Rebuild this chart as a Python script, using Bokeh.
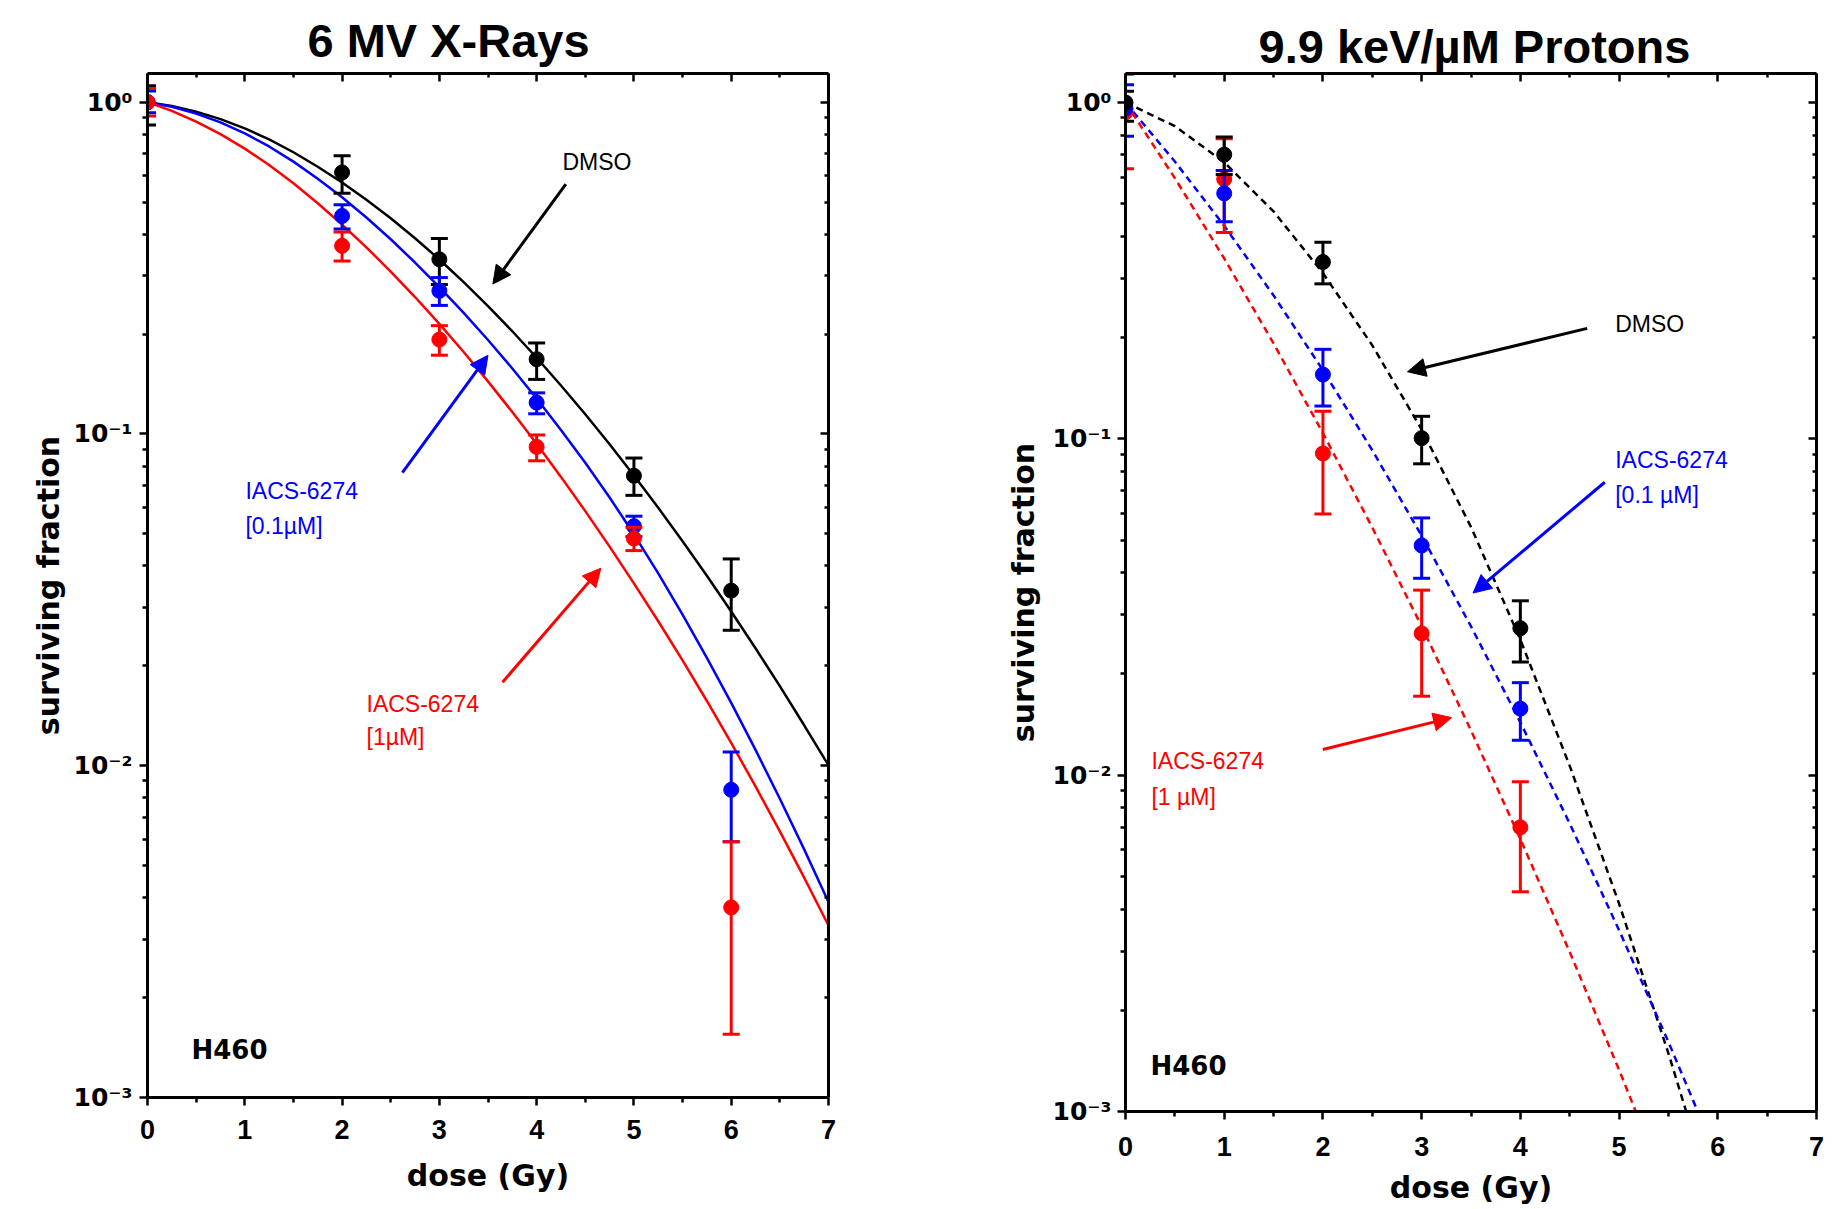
from bokeh.plotting import figure
from bokeh.models import (Range1d, LinearAxis, LogAxis, FixedTicker, Arrow,
                          NormalHead, Title)
from bokeh.layouts import row, column
from bokeh.embed import file_html
from bokeh.resources import INLINE
from bokeh.core.properties import value

FONT = "Liberation Sans"
WIDE = "DejaVu Sans"
BLACK, BLUE, RED = "#000000", "#0000FF", "#FF0000"

# ---------------- 6 MV X-Rays (left panel) ----------------
xr_dose = [0, 2, 3, 4, 5, 6]
xr_dmso = [1.0, 0.614, 0.336, 0.168, 0.0748, 0.0337]
xr_dmso_hi = [1.12, 0.689, 0.388, 0.188, 0.0846, 0.042]
xr_dmso_lo = [0.853, 0.531, 0.282, 0.146, 0.0653, 0.0256]
xr_low = [1.0, 0.454, 0.270, 0.1243, 0.0527, 0.00846]
xr_low_hi = [1.08, 0.491, 0.296, 0.133, 0.0565, 0.011]
xr_low_lo = [0.929, 0.415, 0.244, 0.115, 0.049, 0.0059]
xr_high = [1.0, 0.369, 0.1925, 0.0914, 0.0484, 0.00374]
xr_high_hi = [1.10, 0.406, 0.212, 0.0993, 0.0523, 0.0059]
xr_high_lo = [0.908, 0.332, 0.1727, 0.083, 0.0445, 0.00155]

# fitted curves every 0.25 Gy
xr_fit_dose = [0, 0.25, 0.5, 0.75, 1, 1.25, 1.5, 1.75, 2, 2.25, 2.5, 2.75, 3,
               3.25, 3.5, 3.75, 4, 4.25, 4.5, 4.75, 5, 5.25, 5.5, 5.75, 6,
               6.25, 6.5, 6.75, 7]
xr_fit_dmso = [1.0, 0.9739, 0.9365, 0.8892, 0.8338, 0.7722, 0.7063, 0.6388,
               0.5724, 0.5080, 0.4466, 0.3889, 0.3356, 0.2869, 0.2429, 0.2039,
               0.1697, 0.1400, 0.1146, 0.0931, 0.0749, 0.0599, 0.0475, 0.03737,
               0.02917, 0.02259, 0.01737, 0.01324, 0.01003]
xr_fit_low = [1.0, 0.9685, 0.9241, 0.8690, 0.8054, 0.7354, 0.6618, 0.5879,
              0.5167, 0.4491, 0.3861, 0.3286, 0.2772, 0.2317, 0.1919, 0.1575,
              0.1279, 0.1028, 0.08187, 0.06435, 0.04983, 0.0380, 0.02855,
              0.02115, 0.01546, 0.01116, 0.00795, 0.005596, 0.003883]
xr_fit_high = [1.0, 0.9410, 0.8740, 0.8009, 0.7244, 0.6466, 0.5695, 0.4959,
               0.4276, 0.3651, 0.3087, 0.2586, 0.2146, 0.1766, 0.1440, 0.1164,
               0.09335, 0.07422, 0.05852, 0.04574, 0.03546, 0.02725, 0.02077,
               0.01567, 0.01171, 0.00866, 0.006342, 0.004597, 0.0033]

# ---------------- 9.9 keV/um Protons (right panel) ----------------
pr_dose = [0, 1, 2, 3, 4]
pr_dmso = [1.0, 0.700, 0.3355, 0.1005, 0.02735]
pr_dmso_hi = [1.08, 0.790, 0.384, 0.1167, 0.033]
pr_dmso_lo = [0.88, 0.6115, 0.289, 0.0843, 0.0217]
pr_low = [0.96, 0.537, 0.1553, 0.0482, 0.01577]
pr_low_hi = [1.129, 0.628, 0.1846, 0.0582, 0.01884]
pr_low_lo = [0.794, 0.442, 0.1252, 0.0385, 0.0127]
pr_high = [0.936, 0.592, 0.0905, 0.0264, 0.0070]
pr_high_hi = [1.214, 0.780, 0.1208, 0.0355, 0.00956]
pr_high_lo = [0.636, 0.411, 0.0598, 0.01717, 0.0045]

pr_fit_dose = [0, 0.5, 1, 1.5, 2, 2.5, 3, 3.5, 4, 4.5, 5, 5.5, 6]
pr_fit_dmso = [1.0, 0.851, 0.664, 0.4745, 0.311, 0.1897, 0.1066, 0.0547,
               0.02529, 0.01066, 0.00415, 0.001489, 0.000493]
pr_fit_low = [1.0, 0.668, 0.430, 0.267, 0.160, 0.0925, 0.0515, 0.0277, 0.01436,
              0.00718, 0.00346, 0.00161, 0.000723]
pr_fit_high = [1.0, 0.596, 0.344, 0.1922, 0.1040, 0.0545, 0.0277, 0.01358,
               0.00646, 0.00298, 0.00133, 0.000573, 0.00024]

x_ticks = [0, 1, 2, 3, 4, 5, 6, 7]
x_minor = [0.5, 1.5, 2.5, 3.5, 4.5, 5.5, 6.5]
y_ticks = [0.001, 0.01, 0.1, 1]
y_tick_labels = ["10⁻³", "10⁻²", "10⁻¹", "10⁰"]
y_minor = [k * d for d in (0.001, 0.01, 0.1) for k in range(2, 10)]


def style_axis(ax, inner=False):
    ax.axis_line_width = 3
    ax.major_tick_line_width = 2.5
    ax.minor_tick_line_width = 2.5
    if inner:
        ax.major_tick_in = 8
        ax.major_tick_out = 0
        ax.minor_tick_in = 4
        ax.minor_tick_out = 0
        ax.major_label_standoff = 0
    else:
        ax.major_tick_in = 0
        ax.major_tick_out = 8
        ax.minor_tick_in = 0
        ax.minor_tick_out = 5


def make_fig(width, mbl, mbr, mbb, title, toff, tstand, ylab_stand,
             ytick_stand, xtick_stand, xlab_stand):
    p = figure(width=width, height=1209, x_range=Range1d(0, 7),
               y_range=Range1d(0.001, 1.22), y_axis_type="log",
               output_backend="svg", toolbar_location=None,
               min_border_left=mbl, min_border_right=mbr,
               min_border_top=73, min_border_bottom=mbb)
    p.outline_line_color = None
    p.xgrid.visible = False
    p.ygrid.visible = False
    p.background_fill_color = "white"
    p.border_fill_color = "white"

    p.title = Title(text=title, align="left", text_font=FONT,
                    text_font_size="47px", text_font_style="bold",
                    offset=toff, standoff=tstand, text_color="black")

    xt = FixedTicker(ticks=x_ticks, minor_ticks=x_minor)
    yt = FixedTicker(ticks=y_ticks, minor_ticks=y_minor)

    xa = p.xaxis[0]
    xa.ticker = xt
    style_axis(xa)
    xa.major_label_text_font = FONT
    xa.major_label_text_font_size = "27px"
    xa.major_label_text_font_style = "bold"
    xa.major_label_text_color = "black"
    xa.major_label_standoff = xtick_stand
    xa.axis_label = "dose (Gy)"
    xa.axis_label_text_font = WIDE
    xa.axis_label_text_font_size = "30px"
    xa.axis_label_text_font_style = "bold"
    xa.axis_label_text_color = "black"
    xa.axis_label_standoff = xlab_stand

    ya = p.yaxis[0]
    ya.ticker = yt
    style_axis(ya)
    ya.major_label_overrides = dict(zip(y_ticks, y_tick_labels))
    ya.major_label_text_font = WIDE
    ya.major_label_text_font_size = "25px"
    ya.major_label_text_font_style = "bold"
    ya.major_label_text_color = "black"
    ya.major_label_standoff = ytick_stand
    ya.axis_label = "surviving fraction"
    ya.axis_label_text_font = WIDE
    ya.axis_label_text_font_size = "30px"
    ya.axis_label_text_font_style = "bold"
    ya.axis_label_text_color = "black"
    ya.axis_label_standoff = ylab_stand

    top = LinearAxis(ticker=xt, major_label_overrides={t: "" for t in x_ticks})
    style_axis(top, inner=True)
    p.add_layout(top, "above")
    right = LogAxis(ticker=yt, major_label_overrides={t: "" for t in y_ticks})
    style_axis(right, inner=True)
    p.add_layout(right, "right")
    return p


def draw_series(p, dose, val, hi, lo, color):
    p.segment(x0=dose, y0=lo, x1=dose, y1=hi, line_color=color, line_width=3)
    p.scatter(x=dose + dose, y=hi + lo, marker="dash", size=17,
              line_color=color, line_width=3)
    p.scatter(x=dose, y=val, marker="circle", size=15, fill_color=color,
              line_color=color)


def add_text(p, x, y, lines, color, size="23px", style="normal", font=FONT):
    p.text(x=x, y=y, text=lines, text_color=color, text_font=value(font),
           text_font_size=size, text_font_style=style, text_align="left",
           text_baseline="middle")


def add_arrow(p, x0, y0, x1, y1, color):
    p.add_layout(Arrow(end=NormalHead(size=18, fill_color=color,
                                      line_color=color, line_width=1),
                       x_start=x0, y_start=y0, x_end=x1, y_end=y1,
                       line_color=color, line_width=3))


# ---------------- left figure ----------------
p1 = make_fig(900, 147, 72, 112, "6 MV X-Rays", 160, 14, 5, 7, 14, 16)
p1.line(xr_fit_dose, xr_fit_dmso, line_color=BLACK, line_width=2.5)
p1.line(xr_fit_dose, xr_fit_low, line_color=BLUE, line_width=2.5)
p1.line(xr_fit_dose, xr_fit_high, line_color=RED, line_width=2.5)
draw_series(p1, xr_dose, xr_dmso, xr_dmso_hi, xr_dmso_lo, BLACK)
draw_series(p1, xr_dose, xr_low, xr_low_hi, xr_low_lo, BLUE)
draw_series(p1, xr_dose, xr_high, xr_high_hi, xr_high_lo, RED)

add_text(p1, [4.265], [0.659], ["DMSO"], BLACK)
add_text(p1, [1.007, 1.007], [0.0674, 0.0527], ["IACS-6274", "[0.1µM]"], BLUE)
add_text(p1, [2.251, 2.251], [0.0154, 0.01218], ["IACS-6274", "[1µM]"], RED)
add_text(p1, [0.452], [0.001387], ["H460"], BLACK, size="26px", style="bold",
         font=WIDE)
add_arrow(p1, 4.30, 0.566, 3.55, 0.283, BLACK)
add_arrow(p1, 2.62, 0.0764, 3.50, 0.1726, BLUE)
add_arrow(p1, 3.65, 0.01786, 4.66, 0.0394, RED)

# ---------------- right figure ----------------
p2 = make_fig(937, 225, 21, 98, "9.9 keV/µM Protons", 133, 2, 9, 6, 17, 11)
p2.line(pr_fit_dose, pr_fit_dmso, line_color=BLACK, line_width=2.5,
        line_dash="7 5")
p2.line(pr_fit_dose, pr_fit_low, line_color=BLUE, line_width=2.5,
        line_dash="7 5")
p2.line(pr_fit_dose, pr_fit_high, line_color=RED, line_width=2.5,
        line_dash="7 5")
draw_series(p2, pr_dose, pr_high, pr_high_hi, pr_high_lo, RED)
draw_series(p2, pr_dose, pr_low, pr_low_hi, pr_low_lo, BLUE)
draw_series(p2, pr_dose, pr_dmso, pr_dmso_hi, pr_dmso_lo, BLACK)

add_text(p2, [4.961], [0.2188], ["DMSO"], BLACK)
add_text(p2, [4.961, 4.961], [0.0866, 0.0679], ["IACS-6274", "[0.1 µM]"], BLUE)
add_text(p2, [0.263, 0.263], [0.01101, 0.00859], ["IACS-6274", "[1 µM]"], RED)
add_text(p2, [0.253], [0.001369], ["H460"], BLACK, size="26px", style="bold",
         font=WIDE)
add_arrow(p2, 4.677, 0.2131, 2.857, 0.1583, BLACK)
add_arrow(p2, 4.855, 0.0743, 3.521, 0.0348, BLUE)
add_arrow(p2, 1.999, 0.01192, 3.303, 0.01483, RED)

layout = row(column(p1), column(p2))
open("out.html", "w").write(file_html(layout, INLINE))
